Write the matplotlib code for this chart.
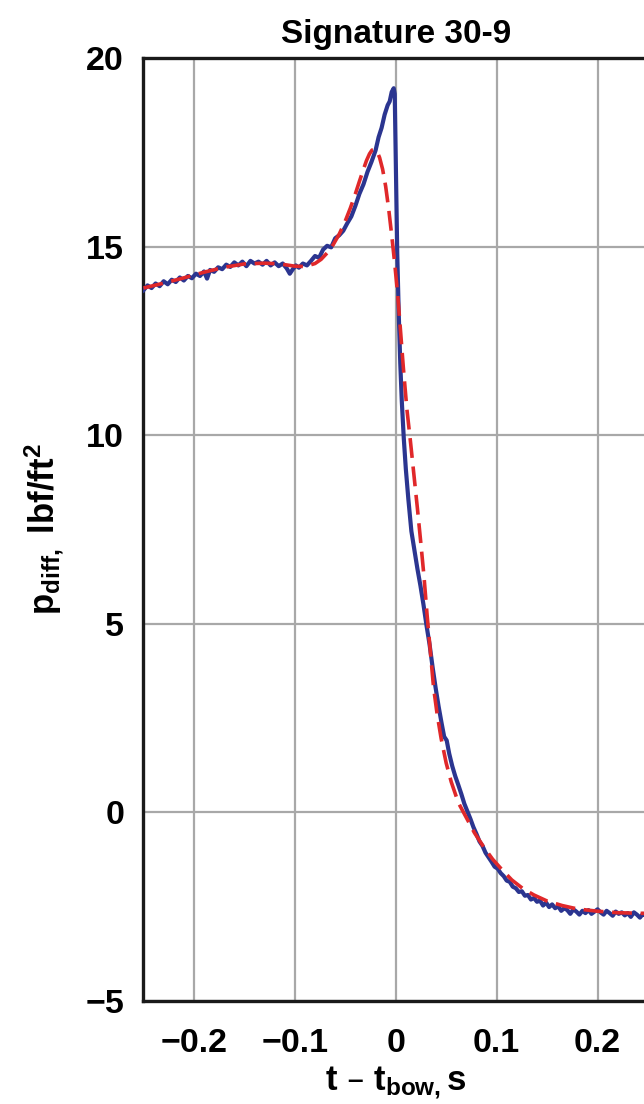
import matplotlib
matplotlib.use("Agg")
import matplotlib.pyplot as plt

# Measured pressure signature (time relative to bow shock, s; differential pressure, lbf/ft^2)
t_meas = [
    -0.250, -0.246, -0.242, -0.238, -0.234, -0.230, -0.226, -0.222, -0.218, -0.214,
    -0.210, -0.206, -0.202, -0.198, -0.194, -0.190, -0.187, -0.184, -0.180, -0.176,
    -0.172, -0.168, -0.164, -0.160, -0.156, -0.152, -0.148, -0.144, -0.140, -0.136,
    -0.132, -0.128, -0.124, -0.120, -0.116, -0.112, -0.108, -0.105, -0.102, -0.099,
    -0.096, -0.092, -0.088, -0.084, -0.080, -0.076, -0.072, -0.068, -0.064, -0.060,
    -0.056, -0.052, -0.048, -0.044, -0.040, -0.036, -0.032, -0.028, -0.024, -0.020,
    -0.017, -0.014, -0.011, -0.008, -0.006, -0.004, -0.002, -0.001,
    0.0015, 0.0030, 0.0045, 0.0060, 0.0080, 0.0100, 0.0125, 0.0155, 0.0185, 0.0215,
    0.0245, 0.0275, 0.0305, 0.0335, 0.0365, 0.0395, 0.0425, 0.0455, 0.0480, 0.0505,
    0.0530, 0.0560, 0.0590, 0.0620, 0.0650, 0.0680, 0.0710, 0.0740, 0.0770, 0.0800,
    0.0830, 0.0860, 0.0890, 0.0920, 0.0950, 0.0980, 0.1010, 0.1040, 0.1070, 0.1100,
    0.1130, 0.1160, 0.1190, 0.1220, 0.1250, 0.1280, 0.1310, 0.1340, 0.1370, 0.1400,
    0.1430, 0.1460, 0.1490, 0.1520, 0.1550, 0.1580, 0.1610, 0.1640, 0.1670, 0.1700,
    0.1730, 0.1760, 0.1790, 0.1820, 0.1850, 0.1880, 0.1910, 0.1940, 0.1970, 0.2000,
    0.2030, 0.2060, 0.2090, 0.2120, 0.2150, 0.2180, 0.2210, 0.2240, 0.2270, 0.2300,
    0.2330, 0.2360, 0.2390, 0.2420, 0.2450, 0.2480,
]
p_meas = [
    13.84, 13.97, 13.90, 14.02, 13.95, 14.08, 14.00, 14.12, 14.06, 14.18,
    14.10, 14.22, 14.16, 14.28, 14.22, 14.34, 14.15, 14.38, 14.33, 14.45,
    14.40, 14.52, 14.46, 14.58, 14.50, 14.60, 14.48, 14.62, 14.55, 14.60,
    14.52, 14.62, 14.50, 14.58, 14.48, 14.55, 14.42, 14.28, 14.40, 14.50,
    14.44, 14.55, 14.50, 14.62, 14.75, 14.70, 14.92, 15.02, 14.98, 15.22,
    15.30, 15.42, 15.62, 15.80, 16.08, 16.40, 16.65, 16.98, 17.25, 17.55,
    17.90, 18.15, 18.50, 18.75, 18.85, 19.10, 19.20, 19.05,
    14.80, 13.20, 11.90, 10.90, 9.90, 9.10, 8.30, 7.45, 6.95, 6.45,
    6.00, 5.50, 4.95, 4.45, 3.85, 3.30, 2.80, 2.35, 2.00, 1.90,
    1.55, 1.22, 0.95, 0.72, 0.48, 0.22, 0.02, -0.18, -0.40, -0.58,
    -0.78, -0.90, -1.08, -1.20, -1.32, -1.45, -1.50, -1.62, -1.70, -1.82,
    -1.85, -1.98, -2.02, -2.12, -2.10, -2.22, -2.20, -2.32, -2.28, -2.38,
    -2.35, -2.48, -2.40, -2.52, -2.45, -2.55, -2.50, -2.62, -2.55, -2.60,
    -2.70, -2.58, -2.64, -2.72, -2.62, -2.68, -2.60, -2.70, -2.64, -2.58,
    -2.66, -2.72, -2.62, -2.68, -2.75, -2.64, -2.70, -2.66, -2.74, -2.68,
    -2.78, -2.66, -2.72, -2.80, -2.70, -2.76,
]

# Model fit of the same signature
t_fit = [
    -0.250, -0.230, -0.210, -0.190, -0.170, -0.150, -0.130, -0.115, -0.100, -0.090,
    -0.080, -0.074, -0.068, -0.062, -0.056, -0.050, -0.045, -0.040, -0.036, -0.032,
    -0.029, -0.026, -0.0235, -0.021, -0.0185, -0.016, -0.013, -0.010, -0.007, -0.004,
    -0.001, 0.002, 0.0045, 0.0075, 0.011, 0.0145, 0.018, 0.0215, 0.025, 0.028,
    0.031, 0.034, 0.0375, 0.041, 0.045, 0.050, 0.055, 0.062, 0.070, 0.078,
    0.087, 0.096, 0.105, 0.115, 0.126, 0.137, 0.150, 0.165, 0.180, 0.200,
    0.220, 0.250,
]
p_fit = [
    13.90, 14.03, 14.17, 14.32, 14.45, 14.54, 14.56, 14.54, 14.48, 14.47,
    14.55, 14.66, 14.83, 15.05, 15.33, 15.68, 16.02, 16.40, 16.73, 17.05,
    17.28, 17.46, 17.56, 17.58, 17.52, 17.36, 17.05, 16.60, 16.00, 15.30,
    14.55, 13.70, 12.85, 11.80, 10.70, 9.85, 8.95, 8.05, 7.10, 6.25,
    5.25, 4.35, 3.30, 2.60, 1.95, 1.30, 0.80, 0.25, -0.15, -0.55,
    -0.92, -1.25, -1.52, -1.80, -2.03, -2.20, -2.36, -2.48, -2.57, -2.63,
    -2.67, -2.69,
]

x_ticks = [-0.2, -0.1, 0.0, 0.1, 0.2]
x_tick_labels = ["\u22120.2", "\u22120.1", "0", "0.1", "0.2"]
y_ticks = [-5, 0, 5, 10, 15, 20]
y_tick_labels = ["\u22125", "0", "5", "10", "15", "20"]

plt.rcParams["font.family"] = ["Liberation Sans", "DejaVu Sans"]
plt.rcParams["font.weight"] = "bold"
plt.rcParams["mathtext.default"] = "regular"

fig = plt.figure(figsize=(6.44, 11.04), dpi=100)
ax = fig.add_axes([0.2228, 0.0937, 0.7834, 0.8537])

ax.plot(t_meas, p_meas, color="#2b3590", lw=3.0, solid_joinstyle="round", zorder=3)
ax.plot(t_fit, p_fit, color="#e0282a", lw=2.6, linestyle=(0, (5.5, 2.4)), zorder=4)

ax.set_xlim(-0.25, 0.25)
ax.set_ylim(-5, 20)
ax.set_xticks(x_ticks)
ax.set_xticklabels(x_tick_labels)
ax.set_yticks(y_ticks)
ax.set_yticklabels(y_tick_labels)
ax.tick_params(axis="both", length=0, labelsize=24.5)
ax.tick_params(axis="x", pad=20)
ax.tick_params(axis="y", pad=14)
for lab in ax.get_xticklabels() + ax.get_yticklabels():
    lab.set_fontweight("bold")

ax.grid(True, color="#a8a8a8", lw=1.6)
ax.set_axisbelow(True)
for side in ("left", "bottom", "top"):
    ax.spines[side].set_linewidth(2.4)
    ax.spines[side].set_color("#1a1a1a")
ax.spines["right"].set_visible(False)

ax.set_title("Signature 30-9", fontsize=24, fontweight="bold", pad=11)
ax.set_xlabel("t \u2013 t$_{bow,}$s", fontsize=25, fontweight="bold", labelpad=4)
ax.set_ylabel("p$_{diff,}$ lbf/ft$^{2}$", fontsize=25, fontweight="bold", labelpad=14)

fig.savefig("out.png", dpi=100)
